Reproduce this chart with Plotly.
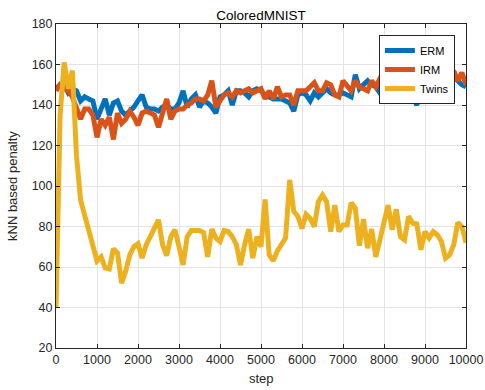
import plotly.graph_objects as go

steps = list(range(0, 10001, 100))

erm = [148, 150, 150, 146, 148, 147, 142, 144, 143, 142,
       133, 138, 143, 135, 141, 142, 137, 135, 137, 139,
       142, 145, 139, 138, 138, 137, 139, 140, 138, 138,
       141, 147, 139, 143, 145, 139, 142, 141, 139, 136,
       144, 145, 147, 140, 147, 147, 146, 144, 147, 148,
       147, 145, 144, 143, 143, 143, 142, 141, 137, 145,
       146, 145, 142, 146, 144, 146, 148, 146, 145, 145,
       146, 145, 144, 155, 148, 150, 152, 150, 149, 146,
       148, 150, 149, 150, 151, 149, 147, 144, 140, 146,
       148, 149, 148, 150, 150, 150, 152, 154, 152, 150,
       149]

irm = [147, 150, 148, 147, 144, 138, 133, 138, 138, 135,
       124, 133, 130, 134, 123, 136, 131, 133, 137, 134,
       130, 136, 137, 136, 135, 129, 137, 143, 133, 137,
       138, 138, 140, 141, 143, 143, 142, 145, 152, 139,
       142, 145, 146, 144, 147, 146, 147, 148, 146, 147,
       148, 143, 147, 143, 149, 144, 145, 145, 140, 147,
       147, 147, 149, 151, 147, 147, 151, 150, 145, 144,
       152, 149, 147, 152, 149, 148, 147, 152, 149, 153,
       150, 148, 150, 152, 151, 149, 149, 148, 147, 149,
       150, 151, 150, 149, 151, 150, 152, 157, 152, 156,
       150]

twins = [40, 135, 161, 148, 157, 115, 93, 85, 79, 70,
         63, 65, 59.5, 59, 69, 67, 52, 58, 66, 70,
         71.5, 64.4, 71, 75, 79, 83.3, 71, 65.6, 75, 78.4,
         70, 61, 75, 78, 78, 78, 77, 65, 78.7, 74.3,
         72.6, 78, 77.5, 75, 71, 61, 71, 78.7, 64.4, 75,
         70, 93.4, 66, 63, 68, 71, 74.3, 103, 87.4, 85,
         79, 86, 84, 80, 92.3, 95.6, 92.3, 77.5, 90.6, 77.5,
         80.8, 80.8, 91.8, 89, 70.5, 83.6, 69.3, 78.7, 65, 73.4,
         82.5, 90.6, 78.4, 88.5, 75, 73.4, 85, 81.6, 81.3, 68.5,
         77.5, 74.3, 77.5, 75.9, 72.6, 64.4, 66, 71, 82, 80,
         72]

x_ticks = list(range(0, 10001, 1000))
x_labels = [str(v) for v in x_ticks]
y_ticks = list(range(20, 181, 20))
y_labels = [str(v) for v in y_ticks]

series = [("ERM", erm, "#0072BD"), ("IRM", irm, "#D95319"), ("Twins", twins, "#EDB120")]

fig = go.Figure()
for name, vals, col in series:
    fig.add_trace(go.Scatter(x=steps, y=vals, mode="lines", name=name,
                             line=dict(color=col, width=5)))

axis_common = dict(showline=True, mirror="ticks", linecolor="#262626", linewidth=1,
                   ticks="inside", ticklen=4, tickcolor="#262626",
                   showgrid=True, gridcolor="#e3e3e3", gridwidth=1,
                   zeroline=False, automargin=False,
                   tickfont=dict(size=12.5, color="#262626"))

fig.update_layout(
    width=485, height=390,
    margin=dict(l=56, r=19, t=24, b=42),
    paper_bgcolor="white", plot_bgcolor="white",
    font=dict(family="Liberation Sans, Arial, sans-serif", color="#262626", size=12.5),
    title=dict(text="ColoredMNIST", x=0.5, xref="paper", xanchor="center",
               y=1 - 15/390, yanchor="middle", font=dict(size=13.5, color="#000000")),
    xaxis=dict(range=[0, 10000], tickvals=x_ticks, ticktext=x_labels, **axis_common),
    yaxis=dict(range=[20, 180], tickvals=y_ticks, ticktext=y_labels, **axis_common),
    legend=dict(x=0.973, y=0.966, xanchor="right", yanchor="top",
                bgcolor="white", bordercolor="#262626", borderwidth=1,
                font=dict(size=11, color="#000000"), tracegroupgap=0),
    showlegend=True,
    annotations=[
        dict(text="step", xref="paper", yref="paper", x=0.5, y=-30/324,
             xanchor="center", yanchor="middle", showarrow=False,
             font=dict(size=13, color="#262626")),
        dict(text="kNN based penalty", xref="paper", yref="paper", x=-44/410, y=0.5,
             xanchor="center", yanchor="middle", textangle=-90, showarrow=False,
             font=dict(size=13, color="#262626")),
    ],
)

fig.write_html("out.html", config={"displayModeBar": False},
               post_script="document.body.style.margin='0px';")
